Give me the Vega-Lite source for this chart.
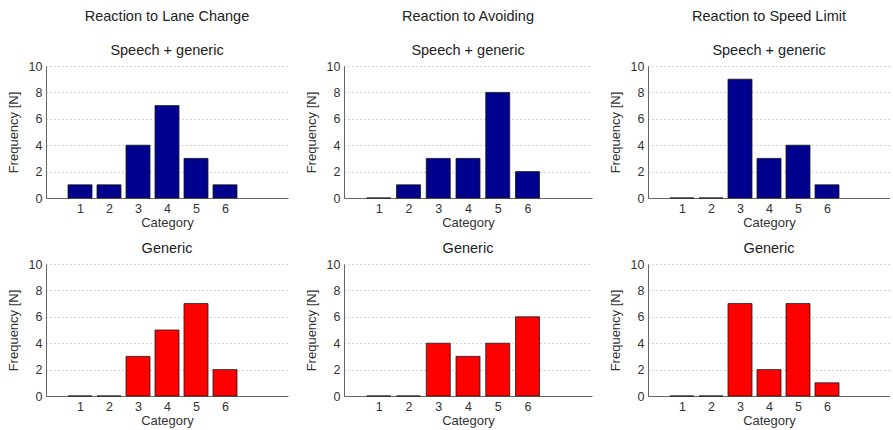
{
  "$schema": "https://vega.github.io/schema/vega-lite/v6.json",
  "background": "white",
  "padding": {"left": 7, "top": 9, "right": 0, "bottom": 0},
  "bounds": "flush",
  "datasets": {
    "counts": [
      {"scenario": "Lane Change", "condition": "Speech + generic", "category": 1, "frequency": 1},
      {"scenario": "Lane Change", "condition": "Speech + generic", "category": 2, "frequency": 1},
      {"scenario": "Lane Change", "condition": "Speech + generic", "category": 3, "frequency": 4},
      {"scenario": "Lane Change", "condition": "Speech + generic", "category": 4, "frequency": 7},
      {"scenario": "Lane Change", "condition": "Speech + generic", "category": 5, "frequency": 3},
      {"scenario": "Lane Change", "condition": "Speech + generic", "category": 6, "frequency": 1},
      {"scenario": "Lane Change", "condition": "Generic", "category": 1, "frequency": 0},
      {"scenario": "Lane Change", "condition": "Generic", "category": 2, "frequency": 0},
      {"scenario": "Lane Change", "condition": "Generic", "category": 3, "frequency": 3},
      {"scenario": "Lane Change", "condition": "Generic", "category": 4, "frequency": 5},
      {"scenario": "Lane Change", "condition": "Generic", "category": 5, "frequency": 7},
      {"scenario": "Lane Change", "condition": "Generic", "category": 6, "frequency": 2},
      {"scenario": "Avoiding", "condition": "Speech + generic", "category": 1, "frequency": 0},
      {"scenario": "Avoiding", "condition": "Speech + generic", "category": 2, "frequency": 1},
      {"scenario": "Avoiding", "condition": "Speech + generic", "category": 3, "frequency": 3},
      {"scenario": "Avoiding", "condition": "Speech + generic", "category": 4, "frequency": 3},
      {"scenario": "Avoiding", "condition": "Speech + generic", "category": 5, "frequency": 8},
      {"scenario": "Avoiding", "condition": "Speech + generic", "category": 6, "frequency": 2},
      {"scenario": "Avoiding", "condition": "Generic", "category": 1, "frequency": 0},
      {"scenario": "Avoiding", "condition": "Generic", "category": 2, "frequency": 0},
      {"scenario": "Avoiding", "condition": "Generic", "category": 3, "frequency": 4},
      {"scenario": "Avoiding", "condition": "Generic", "category": 4, "frequency": 3},
      {"scenario": "Avoiding", "condition": "Generic", "category": 5, "frequency": 4},
      {"scenario": "Avoiding", "condition": "Generic", "category": 6, "frequency": 6},
      {"scenario": "Speed Limit", "condition": "Speech + generic", "category": 1, "frequency": 0},
      {"scenario": "Speed Limit", "condition": "Speech + generic", "category": 2, "frequency": 0},
      {"scenario": "Speed Limit", "condition": "Speech + generic", "category": 3, "frequency": 9},
      {"scenario": "Speed Limit", "condition": "Speech + generic", "category": 4, "frequency": 3},
      {"scenario": "Speed Limit", "condition": "Speech + generic", "category": 5, "frequency": 4},
      {"scenario": "Speed Limit", "condition": "Speech + generic", "category": 6, "frequency": 1},
      {"scenario": "Speed Limit", "condition": "Generic", "category": 1, "frequency": 0},
      {"scenario": "Speed Limit", "condition": "Generic", "category": 2, "frequency": 0},
      {"scenario": "Speed Limit", "condition": "Generic", "category": 3, "frequency": 7},
      {"scenario": "Speed Limit", "condition": "Generic", "category": 4, "frequency": 2},
      {"scenario": "Speed Limit", "condition": "Generic", "category": 5, "frequency": 7},
      {"scenario": "Speed Limit", "condition": "Generic", "category": 6, "frequency": 1}
    ]
  },
  "data": {"name": "counts"},
  "columns": 3,
  "spacing": {"row": 66, "column": 56},
  "concat": [
    {
      "width": 242, "height": 132,
      "title": {"text": "Reaction to Lane Change", "subtitle": "Speech + generic"},
      "transform": [{"filter": "datum.scenario === 'Lane Change' && datum.condition === 'Speech + generic'"}],
      "mark": {"type": "bar", "width": 24, "color": "#00008F", "stroke": "#1a1a1a", "strokeWidth": 0.8},
      "encoding": {
        "x": {"field": "category", "type": "quantitative", "scale": {"domain": [0, 8], "nice": false}, "axis": {"values": [1, 2, 3, 4, 5, 6], "title": "Category"}},
        "y": {"field": "frequency", "type": "quantitative", "scale": {"domain": [0, 10], "nice": false}, "axis": {"values": [0, 2, 4, 6, 8, 10], "title": "Frequency [N]"}}
      }
    },
    {
      "width": 248, "height": 132,
      "title": {"text": "Reaction to Avoiding", "subtitle": "Speech + generic"},
      "transform": [{"filter": "datum.scenario === 'Avoiding' && datum.condition === 'Speech + generic'"}],
      "mark": {"type": "bar", "width": 24, "color": "#00008F", "stroke": "#1a1a1a", "strokeWidth": 0.8},
      "encoding": {
        "x": {"field": "category", "type": "quantitative", "scale": {"domain": [0, 8], "nice": false}, "axis": {"values": [1, 2, 3, 4, 5, 6], "title": "Category"}},
        "y": {"field": "frequency", "type": "quantitative", "scale": {"domain": [0, 10], "nice": false}, "axis": {"values": [0, 2, 4, 6, 8, 10], "title": "Frequency [N]"}}
      }
    },
    {
      "width": 242, "height": 132,
      "title": {"text": "Reaction to Speed Limit", "subtitle": "Speech + generic"},
      "transform": [{"filter": "datum.scenario === 'Speed Limit' && datum.condition === 'Speech + generic'"}],
      "mark": {"type": "bar", "width": 24, "color": "#00008F", "stroke": "#1a1a1a", "strokeWidth": 0.8},
      "encoding": {
        "x": {"field": "category", "type": "quantitative", "scale": {"domain": [0, 8], "nice": false}, "axis": {"values": [1, 2, 3, 4, 5, 6], "title": "Category"}},
        "y": {"field": "frequency", "type": "quantitative", "scale": {"domain": [0, 10], "nice": false}, "axis": {"values": [0, 2, 4, 6, 8, 10], "title": "Frequency [N]"}}
      }
    },
    {
      "width": 242, "height": 132,
      "title": {"text": "Generic"},
      "transform": [{"filter": "datum.scenario === 'Lane Change' && datum.condition === 'Generic'"}],
      "mark": {"type": "bar", "width": 24, "color": "#FF0000", "stroke": "#1a1a1a", "strokeWidth": 0.8},
      "encoding": {
        "x": {"field": "category", "type": "quantitative", "scale": {"domain": [0, 8], "nice": false}, "axis": {"values": [1, 2, 3, 4, 5, 6], "title": "Category"}},
        "y": {"field": "frequency", "type": "quantitative", "scale": {"domain": [0, 10], "nice": false}, "axis": {"values": [0, 2, 4, 6, 8, 10], "title": "Frequency [N]"}}
      }
    },
    {
      "width": 248, "height": 132,
      "title": {"text": "Generic"},
      "transform": [{"filter": "datum.scenario === 'Avoiding' && datum.condition === 'Generic'"}],
      "mark": {"type": "bar", "width": 24, "color": "#FF0000", "stroke": "#1a1a1a", "strokeWidth": 0.8},
      "encoding": {
        "x": {"field": "category", "type": "quantitative", "scale": {"domain": [0, 8], "nice": false}, "axis": {"values": [1, 2, 3, 4, 5, 6], "title": "Category"}},
        "y": {"field": "frequency", "type": "quantitative", "scale": {"domain": [0, 10], "nice": false}, "axis": {"values": [0, 2, 4, 6, 8, 10], "title": "Frequency [N]"}}
      }
    },
    {
      "width": 242, "height": 132,
      "title": {"text": "Generic"},
      "transform": [{"filter": "datum.scenario === 'Speed Limit' && datum.condition === 'Generic'"}],
      "mark": {"type": "bar", "width": 24, "color": "#FF0000", "stroke": "#1a1a1a", "strokeWidth": 0.8},
      "encoding": {
        "x": {"field": "category", "type": "quantitative", "scale": {"domain": [0, 8], "nice": false}, "axis": {"values": [1, 2, 3, 4, 5, 6], "title": "Category"}},
        "y": {"field": "frequency", "type": "quantitative", "scale": {"domain": [0, 10], "nice": false}, "axis": {"values": [0, 2, 4, 6, 8, 10], "title": "Frequency [N]"}}
      }
    }
  ],
  "config": {
    "font": "Liberation Sans",
    "view": {"stroke": null},
    "title": {"fontSize": 14.5, "fontWeight": "normal", "color": "#222", "offset": 2, "anchor": "middle", "subtitleFontSize": 14.5, "subtitleColor": "#222", "subtitleFont": "Liberation Sans", "subtitlePadding": 19},
    "axis": {
      "labelFontSize": 12.5, "titleFontSize": 13, "titleFontWeight": "normal",
      "labelColor": "#333", "titleColor": "#333",
      "domainColor": "#666", "domainWidth": 1,
      "ticks": false, "tickSize": 0, "labelPadding": 4
    },
    "axisX": {"grid": false, "titlePadding": 2, "labelPadding": 4},
    "axisY": {"grid": true, "gridDash": [1, 3], "gridColor": "#aaa", "gridWidth": 1, "titlePadding": 8, "labelPadding": 4}
  }
}
